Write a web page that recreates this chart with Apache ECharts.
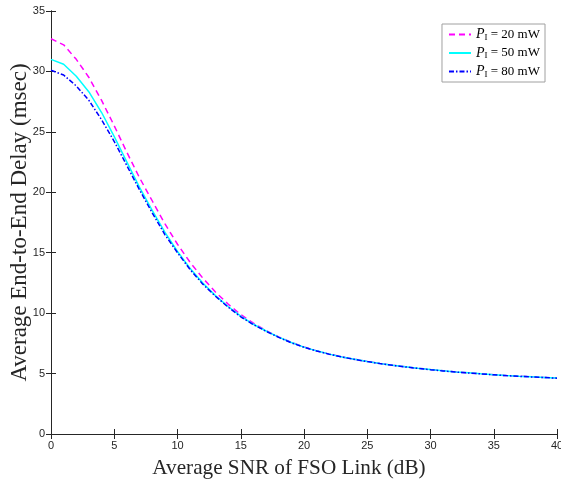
<!DOCTYPE html>
<html><head><meta charset="utf-8">
<script src="https://cdn.jsdelivr.net/npm/echarts@6/dist/echarts.min.js"></script>
<style>html,body{margin:0;padding:0;background:#fff}#c{width:561px;height:480px}</style>
</head><body><div id="c"></div>
<script>
const snr = [0,1,2,3,4,5,6,7,8,9,10,11,12,13,14,15,16,17,18,19,20,21,22,23,24,25,26,27,28,29,30,31,32,33,34,35,36,37,38,39,40];
const delay20 = [32.7,32.2,31.0,29.5,27.6,25.5,23.3,21.2,19.3,17.4,15.7,14.2,12.9,11.75,10.75,9.88,9.17,8.56,8.04,7.59,7.2,6.88,6.61,6.38,6.18,6.0,5.84,5.69,5.56,5.44,5.33,5.23,5.14,5.06,4.98,4.91,4.84,4.78,4.73,4.68,4.63];
const delay50 = [31.0,30.6,29.6,28.3,26.6,24.6,22.5,20.4,18.5,16.7,15.1,13.7,12.5,11.45,10.55,9.75,9.08,8.52,8.02,7.57,7.19,6.88,6.61,6.38,6.18,6.0,5.84,5.69,5.56,5.44,5.33,5.23,5.14,5.06,4.98,4.91,4.84,4.78,4.73,4.68,4.63];
const delay80 = [30.1,29.7,28.8,27.6,26.0,24.2,22.2,20.2,18.3,16.5,15.0,13.6,12.4,11.4,10.5,9.7,9.05,8.5,8.0,7.55,7.18,6.87,6.6,6.37,6.17,5.99,5.83,5.68,5.55,5.43,5.32,5.22,5.13,5.05,4.97,4.9,4.83,4.77,4.72,4.67,4.62];
const powers = ['20','50','80'];
const xName = 'Average SNR of FSO Link (dB)';
const yName = 'Average End-to-End Delay (msec)';

const chart = echarts.init(document.getElementById('c'));
const serif = '"Liberation Serif","DejaVu Serif",serif';
const pair = a => snr.map((x,i)=>[x,a[i]]);
const mk = (name, data, color, type, w) => ({
  name, type:'line', data: pair(data), symbol:'none', showSymbol:false, smooth:false,
  lineStyle:{color, width:w, type}, itemStyle:{color}, z: 3
});
const names = powers.map(p => 'P' + p);
const axisCommon = {
  min:0, interval:5, type:'value',
  axisLine:{show:true, lineStyle:{color:'#262626', width:1}},
  axisTick:{show:true, inside:true, length:5, lineStyle:{color:'#262626'}},
  splitLine:{show:false}
};
chart.setOption({
  animation:false,
  backgroundColor:'#fff',
  grid:{left:51, right:4, top:11, bottom:46, containLabel:false, outerBoundsMode:'none'},
  legend:{
    right:16, top:24, orient:'vertical', itemWidth:22, itemHeight:12, itemGap:3.5,
    borderColor:'#a0a0a0', borderWidth:1, padding:[3,5,3,6], backgroundColor:'#fff',
    data: names,
    itemStyle:{opacity:0},
    formatter: n => '{p|P}{s|I}{t| = ' + n.slice(1) + ' mW}',
    textStyle:{
      lineHeight:14,
      rich:{
        p:{fontFamily:serif, fontStyle:'italic', fontSize:14, color:'#000', lineHeight:14},
        s:{fontFamily:serif, fontSize:9, color:'#000', lineHeight:14, padding:[6,0,0,0]},
        t:{fontFamily:serif, fontSize:13, color:'#000', lineHeight:14}
      }
    }
  },
  xAxis:[
    Object.assign({}, axisCommon, {max:40, position:'bottom',
      name:xName, nameLocation:'middle', nameGap:24, nameMoveOverlap:false,
      nameTextStyle:{fontFamily:serif, fontSize:21.2, color:'#262626', padding:[0,30,0,0]},
      axisLabel:{fontFamily:'"Liberation Sans",Arial,sans-serif', fontSize:11, color:'#262626', margin:6}}),
    Object.assign({}, axisCommon, {max:40, position:'top', axisLabel:{show:false}})
  ],
  yAxis:[
    Object.assign({}, axisCommon, {max:35, position:'left',
      name:yName, nameLocation:'middle', nameGap:20, nameMoveOverlap:false,
      nameTextStyle:{fontFamily:serif, fontSize:23, color:'#262626'},
      axisLabel:{fontFamily:'"Liberation Sans",Arial,sans-serif', fontSize:11, color:'#262626', margin:6}}),
    Object.assign({}, axisCommon, {max:35, position:'right', axisLabel:{show:false}})
  ],
  series:[
    mk(names[0], delay20, '#ff00ff', [6,4], 1.5),
    mk(names[1], delay50, '#00ffff', 'solid', 1.5),
    mk(names[2], delay80, '#0000ff', [5,2,1.5,2], 1.5)
  ]
});
</script></body></html>
